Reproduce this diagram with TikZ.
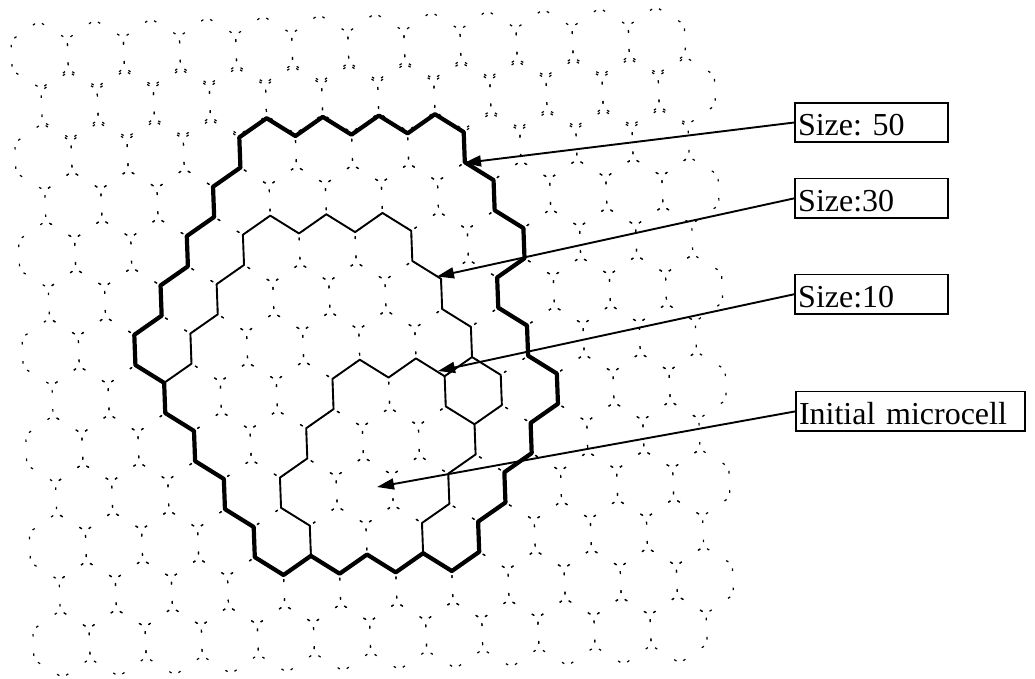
\documentclass[tikz,border=0pt]{standalone}
\usepackage{fontspec}
\setmainfont{Liberation Serif}
\usetikzlibrary{arrows.meta}
\begin{document}
\begin{tikzpicture}[x=1pt,y=-1pt,
  gv/.style={line width=1.2pt, dash pattern=on 2.6pt off 16.6pt on 2.6pt off 60pt, dash phase=77.8pt},
  gs/.style={line width=1.2pt, dash pattern=on 2.6pt off 20pt on 2.6pt off 60pt, dash phase=81.2pt},
  boundthick/.style={line width=4.2pt, line join=round},
  boundthin/.style={line width=1.9pt, line join=round},
  lbl/.style={draw, line width=1.6pt, inner xsep=3pt, inner ysep=3pt, text height=30pt, text depth=3.5pt, align=left, font=\fontsize{32}{36}\selectfont\frenchspacing},
  pointer/.style={line width=1.9pt, -{Triangle[length=17pt,width=11pt]}}
]
\useasboundingbox (0,0) rectangle (1035,678);

\begin{scope}[x={(56.1pt,1.33pt)}, y={(1.8pt,-48.7pt)}, shift={(267.9pt,-151.8pt)}]
  % background hexagonal grid
  \foreach \rw in {-2,...,10}{
    \pgfmathsetmacro\off{mod(\rw+20,2)*0.5}
    \pgfmathsetmacro\v{\rw+min(\rw,0)*0.05}
    \foreach \cl in {-4,...,7}{
      \pgfmathsetmacro\u{\cl+\off}
      \draw[gv] (\u+0.5,\v-0.31) -- (\u+0.5,\v+0.31)
                (\u-0.5,\v+0.31) -- (\u-0.5,\v-0.31);
      \draw[gs] (\u-0.5,\v-0.31) -- (\u,\v-0.69)
                (\u,\v-0.69) -- (\u+0.5,\v-0.31)
                (\u+0.5,\v+0.31) -- (\u,\v+0.69)
                (\u,\v+0.69) -- (\u-0.5,\v+0.31);
    }
  }
  % Size 50 boundary
  \draw[boundthick] (-0.5,-0.31) -- (0,-0.69) -- (0.5,-0.31) -- (1,-0.69) -- (1.5,-0.31) -- (2,-0.69) -- (2.5,-0.31) -- (3,-0.69) -- (3.5,-0.31) -- (3.5,0.31) -- (4,0.69) -- (4,1.31) -- (4.5,1.69) -- (4.5,2.31) -- (4,2.69) -- (4,3.31) -- (4.5,3.69) -- (4.5,4.31) -- (5,4.69) -- (5,5.31) -- (4.5,5.69) -- (4.5,6.31) -- (4,6.69) -- (4,7.31) -- (3.5,7.69) -- (3.5,8.31) -- (3,8.69) -- (2.5,8.31) -- (2,8.69) -- (1.5,8.31) -- (1,8.69) -- (0.5,8.31) -- (0,8.69) -- (-0.5,8.31) -- (-0.5,7.69) -- (-1,7.31) -- (-1,6.69) -- (-1.5,6.31) -- (-1.5,5.69) -- (-2,5.31) -- (-2,4.69) -- (-2.5,4.31) -- (-2.5,3.69) -- (-2,3.31) -- (-2,2.69) -- (-1.5,2.31) -- (-1.5,1.69) -- (-1,1.31) -- (-1,0.69) -- (-0.5,0.31) -- cycle;
  % Size 30 boundary
  \draw[boundthin] (-2,4.69) -- (-1.5,4.31) -- (-1.5,3.69) -- (-1,3.31) -- (-1,2.69) -- (-0.5,2.31) -- (-0.5,1.69) -- (0,1.31) -- (0.5,1.69) -- (1,1.31) -- (1.5,1.69) -- (2,1.31) -- (2.5,1.69) -- (2.5,2.31) -- (3,2.69) -- (3,3.31) -- (3.5,3.69) -- (3.5,4.31) -- (4,4.69) -- (4,5.31) -- (3.5,5.69) -- (3.5,6.31) -- (3,6.69) -- (3,7.31) -- (2.5,7.69) -- (2.5,8.31);
  \draw[boundthin] (3.5,4.31) -- (3,4.69) -- (3,5.31) -- (3.5,5.69);
  % Size 10 boundary
  \draw[boundthin] (3,4.69) -- (2.5,4.31) -- (2,4.69) -- (1.5,4.31) -- (1,4.69) -- (1,5.31) -- (0.5,5.69) -- (0.5,6.31) -- (0,6.69) -- (0,7.31) -- (0.5,7.69) -- (0.5,8.31);
\end{scope}

\coordinate (tip50) at (464,163);
\coordinate (tip30) at (437,276.5);
\coordinate (tip10) at (438,371);
\coordinate (tipinit) at (377,487);

\node[lbl, text width=147pt] (b50) at (871.5,122.5) {Size: 50};
\node[lbl, text width=147pt] (b30) at (871.7,198.3) {Size:30};
\node[lbl, text width=147pt] (b10) at (871.7,294.2) {Size:10};
\node[lbl, text width=223pt] (binit) at (910.5,411.4) {Initial microcell};

\draw[pointer] (b50.west) -- (tip50);
\draw[pointer] (b30.west) -- (tip30);
\draw[pointer] (b10.west) -- (tip10);
\draw[pointer] (binit.west) -- (tipinit);
\end{tikzpicture}
\end{document}
